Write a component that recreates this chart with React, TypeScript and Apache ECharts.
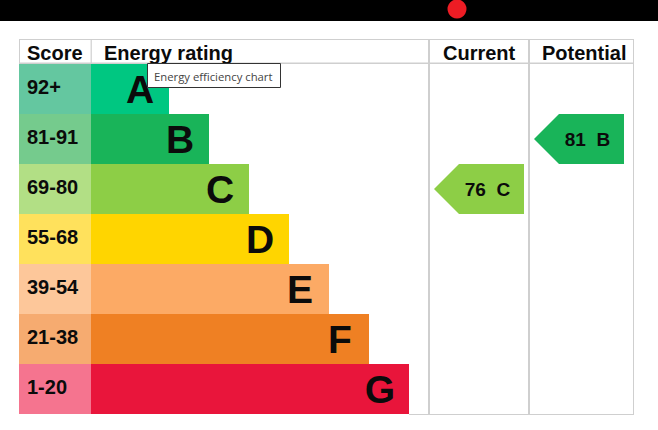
import React, { useEffect, useRef } from "react";
import * as echarts from "echarts";

const ratings = ["A", "B", "C", "D", "E", "F", "G"];
const scores = ["92+", "81-91", "69-80", "55-68", "39-54", "21-38", "1-20"];
const barLengths = [78, 118, 158, 198, 238, 278, 318];
const ratingColors = ["#00c781", "#19b459", "#8dce46", "#ffd500", "#fcaa65", "#ef8023", "#e9153b"];
const scoreColors = ["#64c7a0", "#75cb8d", "#b2df85", "#ffe15c", "#fdc79a", "#f6ab70", "#f5748f"];
const currentRating = { score: 76, letter: "C" };
const potentialRating = { score: 81, letter: "B" };
const headers = ["Score", "Energy rating", "Current", "Potential"];
const FONT = "'Liberation Sans', Arial, sans-serif";
const TOOLTIP = "Energy efficiency chart";

function arrowRender(params: any, api: any) {
  const c = api.coord([0, api.value(1)]);
  const h = api.size([0, 1])[1];
  const x0 = c[0] + 5;
  const w = 90;
  const top = c[1] - h / 2;
  const bottom = c[1] + h / 2;
  return {
    type: "group",
    children: [
      {
        type: "polygon",
        shape: {
          points: [
            [x0, c[1]],
            [x0 + 25, top],
            [x0 + w, top],
            [x0 + w, bottom],
            [x0 + 25, bottom],
          ],
        },
        style: { fill: ratingColors[api.value(1)] },
      },
      {
        type: "text",
        x: x0 + 53.5,
        y: c[1],
        style: {
          text: `${api.value(0)}  ${ratings[api.value(1)]}`,
          fill: "#0b0b0b",
          font: `bold 19px ${FONT}`,
          textAlign: "center",
          textVerticalAlign: "middle",
        },
      },
    ],
  };
}

export default function App() {
  const ref = useRef<HTMLDivElement>(null);
  useEffect(() => {
    const chart = echarts.init(ref.current!, null, { renderer: "svg" });
    const gridTop = 64;
    const gridH = 350;
    const lineColor = "#cfcfcf";
    const grids = [
      { left: 19, width: 72, top: gridTop, height: gridH },
      { left: 91, width: 338, top: gridTop, height: gridH },
      { left: 429, width: 100, top: gridTop, height: gridH },
      { left: 529, width: 105, top: gridTop, height: gridH },
    ];
    const maxes = [72, 338, 100, 105];
    const vline = (x: number, y1: number, y2: number, w = 1) => ({
      type: "line",
      silent: true,
      z: 5,
      shape: { x1: x, y1, x2: x, y2 },
      style: { stroke: lineColor, lineWidth: w },
    });
    const hline = (y: number, x1: number, x2: number, w = 1) => ({
      type: "line",
      silent: true,
      z: 5,
      shape: { x1, y1: y, x2, y2: y },
      style: { stroke: lineColor, lineWidth: w },
    });
    const head = (text: string, x: number) => ({
      type: "text",
      x,
      y: 52.5,
      z: 6,
      style: {
        text,
        fill: "#0b0b0b",
        font: `bold 20px ${FONT}`,
        textAlign: "left",
        textVerticalAlign: "middle",
      },
    });
    chart.setOption({
      animation: false,
      backgroundColor: "#ffffff",
      grid: grids,
      xAxis: grids.map((_, i) => ({
        type: "value",
        gridIndex: i,
        min: 0,
        max: maxes[i],
        show: false,
      })),
      yAxis: grids.map((_, i) => ({
        type: "category",
        gridIndex: i,
        data: ratings,
        inverse: true,
        show: false,
      })),
      series: [
        {
          type: "bar",
          xAxisIndex: 0,
          yAxisIndex: 0,
          barWidth: "100%",
          z: 10,
          data: scores.map((s, i) => ({
            value: 72,
            name: s,
            itemStyle: { color: scoreColors[i] },
          })),
          label: {
            show: true,
            position: "insideLeft",
            distance: 8,
            offset: [0, -2],
            formatter: (p: any) => p.name,
            color: "#0b0b0b",
            fontFamily: FONT,
            fontWeight: "bold",
            fontSize: 20,
          },
        },
        {
          type: "bar",
          xAxisIndex: 1,
          yAxisIndex: 1,
          barWidth: "100%",
          data: barLengths.map((v, i) => ({
            value: v,
            name: ratings[i],
            itemStyle: { color: ratingColors[i] },
          })),
          label: {
            show: true,
            position: "insideRight",
            distance: 29,
            align: "center",
            formatter: (p: any) => p.name,
            color: "#0b0b0b",
            fontFamily: FONT,
            fontWeight: "bold",
            fontSize: 39,
          },
        },
        {
          type: "custom",
          xAxisIndex: 2,
          yAxisIndex: 2,
          renderItem: arrowRender,
          encode: { x: 0, y: 1 },
          data: [[currentRating.score, ratings.indexOf(currentRating.letter)]],
        },
        {
          type: "custom",
          xAxisIndex: 3,
          yAxisIndex: 3,
          renderItem: arrowRender,
          encode: { x: 0, y: 1 },
          data: [[potentialRating.score, ratings.indexOf(potentialRating.letter)]],
        },
      ],
      graphic: [
        { type: "rect", z: 7, shape: { x: 0, y: 0, width: 658, height: 21 }, style: { fill: "#000000" } },
        { type: "circle", z: 8, shape: { cx: 457, cy: 9, r: 9.5 }, style: { fill: "#ed1c24" } },
        hline(39.5, 19, 634),
        hline(63.3, 19, 634, 1.5),
        hline(414.5, 409, 634),
        vline(19.5, 39, 64),
        vline(91.2, 39, 64, 1.2),
        vline(429, 39, 414, 2),
        vline(529, 39, 414, 2),
        vline(633.5, 39, 414),
        head(headers[0], 27),
        head(headers[1], 104),
        head(headers[2], 443),
        head(headers[3], 542),
        {
          type: "rect",
          z: 9,
          shape: { x: 147.5, y: 63.5, width: 133, height: 24 },
          style: { fill: "#ffffff", stroke: "#333333", lineWidth: 1 },
        },
        {
          type: "text",
          z: 10,
          x: 154,
          y: 76,
          style: {
            text: TOOLTIP,
            fill: "#444444",
            font: "11.3px 'Open Sans', sans-serif",
            textAlign: "left",
            textVerticalAlign: "middle",
          },
        },
      ],
    });
    return () => chart.dispose();
  }, []);
  return (
    <div
      ref={ref}
      style={{ position: "absolute", left: 0, top: 0, width: 658, height: 430 }}
    />
  );
}
